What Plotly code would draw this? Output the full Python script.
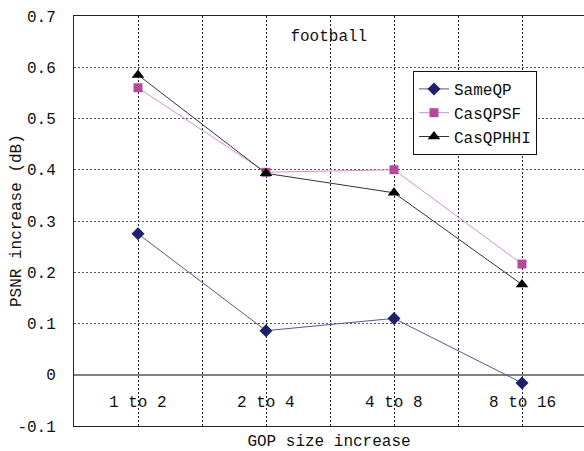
import plotly.graph_objects as go

categories = ["1 to 2", "2 to 4", "4 to 8", "8 to 16"]
same_qp = [0.275, 0.086, 0.110, -0.016]
cas_qpsf = [0.560, 0.395, 0.400, 0.216]
cas_qphhi = [0.585, 0.393, 0.355, 0.176]
y_ticks = [-0.1, 0.0, 0.1, 0.2, 0.3, 0.4, 0.5, 0.6, 0.7]

x_pos = list(range(len(categories)))
grid_vals = []
for i in x_pos:
    grid_vals += [i, i + 0.5]

FONT = "Liberation Mono, DejaVu Sans Mono, monospace"
X_RANGE = [-0.5, -0.5 + 510 / 128]
Y_RANGE = [-0.1, 0.7]
CAT_LABEL_Y = -0.056

fig = go.Figure()
fig.add_trace(go.Scatter(
    x=x_pos, y=same_qp, name="SameQP", mode="lines+markers",
    line=dict(color="#55559a", width=1),
    marker=dict(symbol="diamond", size=10, color="#1f1f6b"),
))
fig.add_trace(go.Scatter(
    x=x_pos, y=cas_qpsf, name="CasQPSF", mode="lines+markers",
    line=dict(color="#d98cd0", width=1),
    marker=dict(symbol="square", size=9, color="#b5489f"),
))
fig.add_trace(go.Scatter(
    x=x_pos, y=cas_qphhi, name="CasQPHHI", mode="lines+markers",
    line=dict(color="#333333", width=1),
    marker=dict(symbol="triangle-up", size=11, color="#000000"),
))

annotations = [
    dict(x=xp, y=CAT_LABEL_Y, xref="x", yref="y", text=c, showarrow=False,
         xanchor="center", yanchor="middle", font=dict(size=16, family=FONT, color="#111111"))
    for xp, c in zip(x_pos, categories)
]
annotations.append(dict(
    x=(17 - 74) / 510, y=0.5, xref="paper", yref="paper", text="PSNR increase (dB)",
    textangle=-90, showarrow=False, xanchor="center", yanchor="middle",
    font=dict(size=16, family=FONT, color="#111111"),
))

fig.update_layout(
    width=584, height=451,
    margin=dict(l=74, r=0, t=16, b=25),
    paper_bgcolor="white", plot_bgcolor="white",
    font=dict(family=FONT, size=16, color="#111111"),
    title=dict(text="football", x=0.563, xanchor="center", y=1 - 35 / 451,
               yanchor="middle", font=dict(size=16, color="#111111")),
    showlegend=True,
    legend=dict(x=(413 - 74) / 510, y=(426 - 71) / 410, xanchor="left", yanchor="top",
                bgcolor="white", bordercolor="#111111", borderwidth=1,
                font=dict(size=16, family=FONT)),
    annotations=annotations,
    xaxis=dict(
        range=X_RANGE, tickvals=grid_vals, showticklabels=False,
        showgrid=True, gridcolor="#222222", griddash="2px,2px", gridwidth=1,
        showline=True, linecolor="#222222", linewidth=1, mirror=True,
        ticks="", zeroline=False,
        title=dict(text="GOP size increase", standoff=9, font=dict(size=16)),
    ),
    yaxis=dict(
        range=Y_RANGE, tickvals=y_ticks,
        ticktext=[("%.1f" % v) if v != 0 else "0" for v in y_ticks],
        showgrid=True, gridcolor="#555555", griddash="2px,2px", gridwidth=1,
        zeroline=True, zerolinecolor="#808080", zerolinewidth=2,
        showline=True, linecolor="#222222", linewidth=1, mirror=False,
        ticks="", ticklabelstandoff=14,
    ),
)

fig.write_html("out.html")
